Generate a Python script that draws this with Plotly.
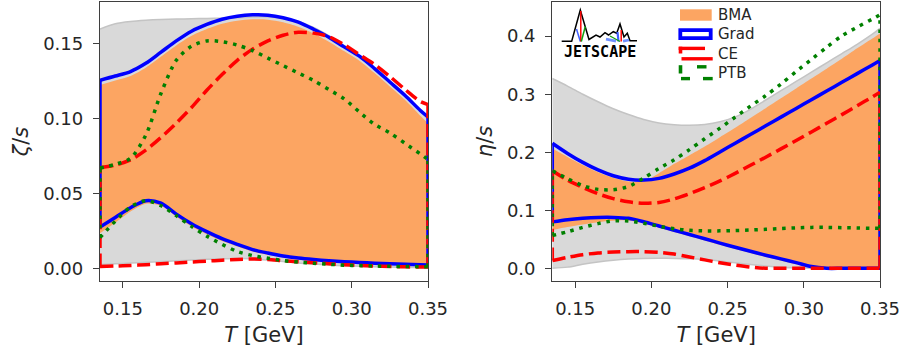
import plotly.graph_objects as go

# ---------------- data ----------------
T = [0.135, 0.145, 0.155, 0.165, 0.175, 0.185, 0.195, 0.205, 0.215, 0.225, 0.235, 0.245,
     0.255, 0.265, 0.275, 0.285, 0.295, 0.305, 0.315, 0.325, 0.335, 0.345, 0.35]

# zeta/s (left panel)
zeta_prior_hi = [0.160, 0.1635, 0.165, 0.1658, 0.1663, 0.1666, 0.1668, 0.167, 0.1672, 0.1675, 0.168, 0.168,
                 0.167, 0.165, 0.161, 0.1555, 0.149, 0.142, 0.1335, 0.1245, 0.115, 0.105, 0.100]
zeta_prior_lo = [0.0025, 0.003, 0.0035, 0.004, 0.0045, 0.005, 0.0055, 0.006, 0.0063, 0.0065, 0.0063, 0.0055,
                 0.0045, 0.0035, 0.0028, 0.0022, 0.0017, 0.0013, 0.001, 0.0008, 0.0006, 0.0005, 0.0005]
zeta_bma_hi = [0.1225, 0.1255, 0.1285, 0.134, 0.1415, 0.149, 0.1555, 0.160, 0.1635, 0.1655, 0.1664, 0.1662,
               0.1645, 0.1615, 0.157, 0.1515, 0.1452, 0.1388, 0.1305, 0.1215, 0.1125, 0.102, 0.097]
zeta_bma_lo = [0.0235, 0.0305, 0.038, 0.0432, 0.0418, 0.0345, 0.028, 0.0228, 0.0182, 0.0145, 0.0112, 0.009,
               0.0072, 0.0058, 0.0048, 0.0041, 0.0035, 0.003, 0.0026, 0.0022, 0.0019, 0.0016, 0.0015]
zeta_grad_hi = [0.1257, 0.1285, 0.1315, 0.137, 0.1445, 0.152, 0.1585, 0.163, 0.1665, 0.1685, 0.1694, 0.1692,
                0.1675, 0.1645, 0.1598, 0.1545, 0.148, 0.1418, 0.1335, 0.1245, 0.1155, 0.1055, 0.1012]
zeta_grad_lo = [0.0275, 0.034, 0.0405, 0.0452, 0.0435, 0.0362, 0.0298, 0.0245, 0.0198, 0.016, 0.0125, 0.0102,
                0.0082, 0.0068, 0.0058, 0.005, 0.0044, 0.0039, 0.0034, 0.003, 0.0027, 0.0023, 0.0022]
zeta_ce_hi = [0.0672, 0.069, 0.0725, 0.079, 0.0875, 0.097, 0.1075, 0.119, 0.1295, 0.139, 0.1465, 0.152,
              0.1558, 0.1578, 0.1572, 0.1548, 0.1495, 0.1428, 0.1362, 0.1282, 0.1195, 0.1115, 0.1095]
zeta_ce_lo = [0.0012, 0.0015, 0.0019, 0.0024, 0.003, 0.0036, 0.0042, 0.0048, 0.0054, 0.0059, 0.0062, 0.0058,
              0.005, 0.0043, 0.0037, 0.0031, 0.0024, 0.0019, 0.0015, 0.0012, 0.001, 0.0008, 0.0008]
zeta_ptb_hi = [0.067, 0.0695, 0.0735, 0.089, 0.117, 0.139, 0.1485, 0.152, 0.1515, 0.1492, 0.1455, 0.1405,
               0.1355, 0.1305, 0.1255, 0.1195, 0.1133, 0.1045, 0.0962, 0.0905, 0.0835, 0.0764, 0.0728]
zeta_ptb_lo = [0.0205, 0.0315, 0.041, 0.0452, 0.0418, 0.0352, 0.028, 0.0215, 0.016, 0.0112, 0.0085, 0.0067,
               0.0052, 0.0041, 0.0033, 0.0027, 0.0021, 0.0018, 0.0015, 0.0013, 0.0012, 0.0011, 0.0011]

# eta/s (right panel)
eta_prior_hi = [0.327, 0.314, 0.300, 0.287, 0.275, 0.265, 0.2565, 0.2505, 0.2475, 0.2465, 0.248, 0.2525,
                0.261, 0.274, 0.290, 0.306, 0.322, 0.338, 0.354, 0.370, 0.386, 0.4035, 0.4133]
eta_prior_lo = [0.0, 0.002, 0.007, 0.011, 0.014, 0.016, 0.017, 0.0172, 0.017, 0.0165, 0.015, 0.0125,
                0.0095, 0.0065, 0.004, 0.002, 0.0008, 0.0002, 0.0, 0.0, 0.0, 0.0, 0.0]
eta_bma_hi = [0.2066, 0.192, 0.178, 0.1655, 0.156, 0.1495, 0.150, 0.164, 0.180, 0.195, 0.210, 0.226,
              0.242, 0.259, 0.276, 0.293, 0.310, 0.327, 0.344, 0.361, 0.379, 0.396, 0.4047]
eta_bma_lo = [0.066, 0.071, 0.0755, 0.0795, 0.082, 0.0825, 0.077, 0.0698, 0.0625, 0.0552, 0.048, 0.0404,
              0.0332, 0.0263, 0.0195, 0.0132, 0.007, 0.001, 0.0, 0.0, 0.0, 0.0, 0.0]
eta_grad_hi = [0.2155, 0.198, 0.1825, 0.1695, 0.1595, 0.1535, 0.152, 0.155, 0.1625, 0.1725, 0.1855, 0.2005,
               0.2155, 0.2305, 0.2455, 0.2605, 0.2755, 0.2905, 0.3055, 0.3205, 0.3355, 0.3505, 0.358]
eta_grad_lo = [0.080, 0.0838, 0.0862, 0.0876, 0.0877, 0.0861, 0.0802, 0.0728, 0.0655, 0.0582, 0.051, 0.0434,
               0.0362, 0.0293, 0.0225, 0.0162, 0.0098, 0.003, 0.0, 0.0, 0.0, 0.0, 0.0]
eta_ce_hi = [0.168, 0.152, 0.1395, 0.1285, 0.120, 0.1145, 0.112, 0.1135, 0.1195, 0.1285, 0.139, 0.1505,
             0.1636, 0.1775, 0.1915, 0.2058, 0.2203, 0.235, 0.2498, 0.2648, 0.280, 0.2955, 0.3035]
eta_ce_lo = [0.0135, 0.019, 0.0235, 0.0265, 0.028, 0.0287, 0.0287, 0.0275, 0.0245, 0.0195, 0.0145, 0.0095,
             0.0055, 0.002, 0.0, 0.0, 0.0, 0.0, 0.0, 0.0, 0.0, 0.0, 0.0]
eta_ptb_hi = [0.168, 0.1545, 0.1425, 0.136, 0.1355, 0.141, 0.1555, 0.172, 0.187, 0.2045, 0.2232, 0.2415,
              0.2605, 0.2795, 0.2975, 0.3175, 0.339, 0.360, 0.381, 0.4005, 0.4155, 0.4295, 0.437]
eta_ptb_lo = [0.0565, 0.063, 0.0705, 0.077, 0.0818, 0.0815, 0.0775, 0.0725, 0.068, 0.0655, 0.0645, 0.0645,
              0.065, 0.066, 0.0672, 0.0685, 0.0697, 0.0705, 0.0705, 0.070, 0.0695, 0.069, 0.0688]

x_ticks = [0.15, 0.20, 0.25, 0.30, 0.35]
zeta_ticks = [0.00, 0.05, 0.10, 0.15]
eta_ticks = [0.0, 0.1, 0.2, 0.3, 0.4]
legend_labels = ["BMA", "Grad", "CE", "PTB"]

# ---------------- styles ----------------
W, H = 904, 351
GRAY_FILL = "#d9d9d9"
GRAY_EDGE = "#c4c4c4"
ORANGE = "#fca562"
BLUE = "#0000ff"
RED = "#ff0000"
GREEN = "#008000"
LW = 3.5
DASH_CE = "13px,5.6px"
DASH_PTB = "3.5px,5.8px"
TXT = "#262626"
AX = "#3f3f3f"
FONT = "DejaVu Sans"

fig = go.Figure()


def band_fill(lo, hi, color, edge, xa, ya):
    fig.add_trace(go.Scatter(x=T, y=lo, mode="lines", line=dict(color=edge or color, width=1.5 if edge else 0,
                             shape="spline", smoothing=0.8), xaxis=xa, yaxis=ya, showlegend=False, hoverinfo="skip"))
    fig.add_trace(go.Scatter(x=T, y=hi, mode="lines", fill="tonexty", fillcolor=color,
                             line=dict(color=edge or color, width=1.5 if edge else 0, shape="spline", smoothing=0.8),
                             xaxis=xa, yaxis=ya, showlegend=False, hoverinfo="skip"))


def band_outline(lo, hi, color, dash, xa, ya):
    for arr in (lo, hi):
        fig.add_trace(go.Scatter(x=T, y=arr, mode="lines",
                                 line=dict(color=color, width=LW, dash=dash, shape="spline", smoothing=0.8),
                                 xaxis=xa, yaxis=ya, showlegend=False, hoverinfo="skip"))
    fig.add_trace(go.Scatter(x=[T[0], T[0], None, T[-1], T[-1]], y=[lo[0], hi[0], None, lo[-1], hi[-1]],
                             mode="lines", line=dict(color=color, width=LW, dash=dash),
                             xaxis=xa, yaxis=ya, showlegend=False, hoverinfo="skip"))


# left panel
band_fill(zeta_prior_lo, zeta_prior_hi, GRAY_FILL, GRAY_EDGE, "x", "y")
band_fill(zeta_bma_lo, zeta_bma_hi, ORANGE, None, "x", "y")
band_outline(zeta_grad_lo, zeta_grad_hi, BLUE, "solid", "x", "y")
band_outline(zeta_ce_lo, zeta_ce_hi, RED, DASH_CE, "x", "y")
band_outline(zeta_ptb_lo, zeta_ptb_hi, GREEN, DASH_PTB, "x", "y")
# right panel
band_fill(eta_prior_lo, eta_prior_hi, GRAY_FILL, GRAY_EDGE, "x2", "y2")
band_fill(eta_bma_lo, eta_bma_hi, ORANGE, None, "x2", "y2")
band_outline(eta_grad_lo, eta_grad_hi, BLUE, "solid", "x2", "y2")
band_outline(eta_ce_lo, eta_ce_hi, RED, DASH_CE, "x2", "y2")
band_outline(eta_ptb_lo, eta_ptb_hi, GREEN, DASH_PTB, "x2", "y2")

ML, MR, MT, MB = 100, 24, 2, 70
PW = W - ML - MR
PH = H - MT - MB


def xaxis_style(domain, anchor):
    return dict(domain=domain, anchor=anchor, range=[T[0], T[-1]], tickvals=x_ticks, tickformat=".2f",
                ticks="outside", ticklen=6, tickwidth=1.2, tickcolor=AX, ticklabelstandoff=5,
                showline=True, linecolor=AX, linewidth=1.3, mirror=True, showgrid=False, zeroline=False,
                tickfont=dict(family=FONT, size=18, color=TXT),
                title=dict(text="<i>T</i> [GeV]", font=dict(family=FONT, size=21, color=TXT), standoff=9))


def yaxis_style(rng, ticks, fmt, title, anchor):
    return dict(domain=[0, 1], anchor=anchor, range=rng, tickvals=ticks, tickformat=fmt,
                ticks="outside", ticklen=6, tickwidth=1.2, tickcolor=AX, ticklabelstandoff=6,
                showline=True, linecolor=AX, linewidth=1.3, mirror=True, showgrid=False, zeroline=False,
                tickfont=dict(family=FONT, size=18, color=TXT),
                title=dict(text=title, font=dict(family=FONT, size=21, color=TXT), standoff=8))


fig.update_layout(
    width=W, height=H, margin=dict(l=ML, r=MR, t=MT, b=MB),
    paper_bgcolor="white", plot_bgcolor="white", showlegend=False,
    xaxis=xaxis_style([0, 328 / PW], "y"),
    yaxis=yaxis_style([-0.0085, 0.178], zeta_ticks, ".2f", "<i>ζ</i>/<i>s</i>", "x"),
    xaxis2=xaxis_style([(552.3 - ML) / PW, 1], "y2"),
    yaxis2=yaxis_style([-0.0219, 0.4589], eta_ticks, ".1f", "<i>η</i>/<i>s</i>", "x2"),
)


# ---------------- legend & logo (pixel positions -> paper coords) ----------------
def px(x):
    return (x - ML) / PW


def py(y):
    return 1 - (y - MT) / PH


shapes = []
shapes.append(dict(type="rect", xref="paper", yref="paper", x0=px(680), x1=px(711.7), y0=py(20.7), y1=py(9.3),
                   fillcolor=ORANGE, line=dict(width=0)))
shapes.append(dict(type="rect", xref="paper", yref="paper", x0=px(680.3), x1=px(710.7), y0=py(38.1), y1=py(30.2),
                   fillcolor="white", line=dict(color=BLUE, width=3.8)))


def seg(x0, y0, x1, y1, color, w):
    return dict(type="line", xref="paper", yref="paper", x0=px(x0), y0=py(y0), x1=px(x1), y1=py(y1),
                line=dict(color=color, width=w))


shapes += [seg(680.5, 53.5, 680.5, 46.7, RED, 3.6), seg(678.7, 48.4, 705, 48.4, RED, 3.4),
           seg(681.5, 58.8, 712.7, 58.8, RED, 3.4)]
shapes += [seg(680.5, 73.5, 680.5, 65.2, GREEN, 3.6), seg(697, 66.8, 706.5, 66.8, GREEN, 3.4),
           seg(681, 78.6, 690, 78.6, GREEN, 3.4), seg(703, 78.6, 712.7, 78.6, GREEN, 3.4)]

logo_pts = [(561.7, 41.2), (571.7, 41.2), (580.3, 10), (589, 39.5), (596, 35), (600, 37), (605, 32.7),
            (608.5, 35), (613.3, 31.7), (616.7, 33.3), (620, 24), (624, 37), (627.3, 33.3), (630, 40.7),
            (637, 40.7)]
path = "M " + " L ".join(f"{px(a):.5f},{py(b):.5f}" for a, b in logo_pts)
shapes.append(dict(type="path", xref="paper", yref="paper", path=path, line=dict(color="black", width=1.5)))
shapes += [seg(576.5, 29, 580.3, 41.5, "#4060ff", 1.5), seg(580.8, 11, 580.8, 41.5, RED, 1.5),
           seg(581.3, 41.5, 585.3, 26.5, "#10a010", 1.5),
           seg(606, 39.2, 616, 41.2, "#7090ff", 2.8), seg(623, 41.2, 629, 40, "#7090ff", 2.8),
           seg(617.5, 32, 618.5, 41.5, "#4060ff", 2.2), seg(621.2, 30, 621.2, 41.5, RED, 1.5),
           seg(610, 36, 620, 41.5, "#10a010", 1.3)]

fig.update_layout(shapes=shapes)

ann = []
for lab, yc in zip(legend_labels, [15.0, 34.3, 53.6, 72.8]):
    ann.append(dict(text=lab, xref="paper", yref="paper", x=px(716.5), y=py(yc), xanchor="left", yanchor="middle",
                    showarrow=False, borderpad=0, font=dict(family=FONT, size=15, color=TXT)))
ann.append(dict(text="<b>JETSCAPE</b>", xref="paper", yref="paper", x=px(599.5), y=py(51.7), xanchor="center",
                yanchor="middle", showarrow=False, borderpad=0,
                font=dict(family="DejaVu Sans Mono", size=15, color="black")))
fig.update_layout(annotations=ann)

fig.write_html("out.html")
